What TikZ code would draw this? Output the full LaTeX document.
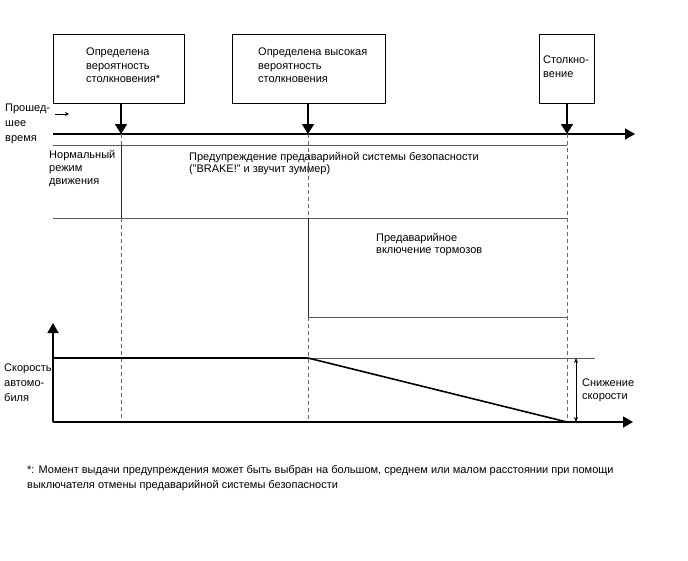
\documentclass[tikz,border=0pt]{standalone}
\usepackage{fontspec}
\setmainfont{Liberation Sans}
\usetikzlibrary{arrows.meta}
\tikzset{
 lbl/.style={inner sep=0pt, align=left, anchor=north west, font=\fontsize{11}{13.3}\selectfont},
 evbox/.style={draw, line width=0.9pt, anchor=north west, inner sep=0pt, minimum height=69pt},
 evarrow/.style={line width=1.6pt, -{Triangle[length=10pt,width=12pt]}},
 axisline/.style={line width=1.6pt, -{Triangle[length=10pt,width=11pt]}},
 gline/.style={draw=black!65, line width=1pt},
 dline/.style={draw=black!60, line width=0.7pt, dash pattern=on 4pt off 3pt},
 sline/.style={draw=black!85, line width=1pt},
 speed/.style={line width=1.6pt},
}
\begin{document}
\begin{tikzpicture}[x=1pt,y=-1pt]
\useasboundingbox[fill=white] (0,0) rectangle (688,560);

% event boxes
\node[evbox, minimum width=131pt] (b1) at (53,34) {};
\node[evbox, minimum width=153pt] (b2) at (232,34) {};
\node[evbox, minimum width=55pt] (b3) at (539,34) {};
\node[lbl] (t1) at (86,48) {Определена\\вероятность\\столкновения*};
\node[lbl] (t2) at (258,48) {Определена высокая\\вероятность\\столкновения};
\node[lbl, font=\fontsize{11}{14}\selectfont] (t3) at (543,56) {Столкно-\\вение};

% time axis
\coordinate (tl0) at (53,134);
\coordinate (tl1) at (635,134);
\coordinate (e1) at (121,134);
\coordinate (e2) at (308,134);
\coordinate (e3) at (567,134);
\draw[axisline] (tl0) -- (tl1);
\draw[evarrow] (b1.south -| e1) -- (e1);
\draw[evarrow] (b2.south -| e2) -- (e2);
\draw[evarrow] (b3.south -| e3) -- (e3);

\node[lbl, font=\fontsize{11}{15}\selectfont] (elapsed) at (5,104) {Прошед-\\шее\\время};
\coordinate (sa0) at (55,114);
\coordinate (sa1) at (69,114);
\draw[line width=0.8pt, -{Stealth[length=4pt,width=4pt]}] (sa0) -- (sa1);

% rows
\coordinate (r1a) at (53,145); \coordinate (r1b) at (567,145);
\coordinate (r2a) at (53,218); \coordinate (r2b) at (567,218);
\coordinate (r3a) at (308,317); \coordinate (r3b) at (567,317);
\draw[gline] (r1a) -- (r1b);
\draw[gline] (r2a) -- (r2b);
\draw[gline] (r3a) -- (r3b);

% speed graph
\coordinate (o) at (53,422);
\coordinate (ytip) at (53,323);
\coordinate (xtip) at (633,422);
\coordinate (s1) at (308,358);
\coordinate (s0) at (53,358);
\coordinate (s2) at (567,422);
\coordinate (ref) at (595,358);
\coordinate (da0) at (576,358);
\coordinate (da1) at (576,422);

% verticals
\draw[dline] (e1) -- (e1 |- r1a);
\draw[sline] (e1 |- r1a) -- (e1 |- r2a);
\draw[dline] (e1 |- r2a) -- (e1 |- o);
\draw[dline] (e2) -- (e2 |- r2a);
\draw[sline] (e2 |- r2a) -- (r3a);
\draw[dline] (r3a) -- (e2 |- o);
\draw[dline] (e3) -- (e3 |- o);

\draw[gline] (s1) -- (ref);
\draw[axisline] (o) -- (ytip);
\draw[axisline] (o) -- (xtip);
\draw[speed] (s0) -- (s1) -- (s2);
\draw[line width=0.8pt, {Stealth[length=5pt,width=4pt]}-{Stealth[length=5pt,width=4pt]}] (da0) -- (da1);

% texts
\node[lbl] (normal) at (49,150) {Нормальный\\режим\\движения};
\node[lbl, font=\fontsize{11}{12.5}\selectfont] (warn) at (189,152) {Предупреждение предаварийной системы безопасности\\("BRAKE!" и звучит зуммер)};
\node[lbl, font=\fontsize{11}{12.5}\selectfont] (brake) at (376,233) {Предаварийное\\включение тормозов};
\node[lbl, font=\fontsize{11}{15}\selectfont] (spd) at (4,364) {Скорость\\автомо-\\биля};
\node[lbl, font=\fontsize{11}{13}\selectfont] (dec) at (582,379) {Снижение\\скорости};
\node[lbl, font=\fontsize{11}{15.5}\selectfont] (note) at (27,465) {*: Момент выдачи предупреждения может быть выбран на большом, среднем или малом расстоянии при помощи\\выключателя отмены предаварийной системы безопасности};
\end{tikzpicture}
\end{document}
